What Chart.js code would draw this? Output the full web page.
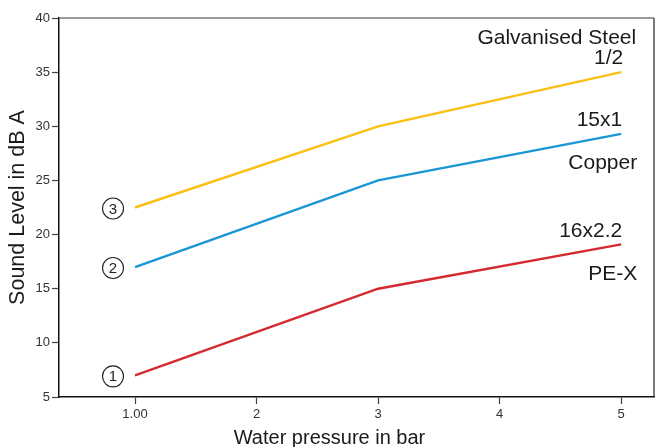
<!DOCTYPE html>
<html>
<head>
<meta charset="utf-8">
<script src="https://cdn.jsdelivr.net/npm/chart.js@4.4.1/dist/chart.umd.min.js"></script>
<style>
  html, body { margin: 0; padding: 0; background: #ffffff; }
  #wrap { width: 665px; height: 447px; position: relative; }
</style>
</head>
<body>
<div id="wrap"><canvas id="chart"></canvas></div>
<script>
// Water pressure (bar) at which sound level was measured
const pressures = [1, 3, 5];
const xTicks = [1, 2, 3, 4, 5];
const yTicks = [5, 10, 15, 20, 25, 30, 35, 40];

// Sound level in dB(A) per pipe type
const galvanisedSteel = [22.5, 30, 35];
const copper = [17, 25, 29.3];
const pex = [7, 15, 19.1];

const seriesNames = ['PE-X 16x2.2', 'Copper 15x1', 'Galvanised Steel 1/2'];
const seriesMarkers = ['1', '2', '3'];
const seriesColors = ['#d42a2f', '#1a96d6', '#fbbf14'];

// Right-hand captions: [upper line, lower line]
const captionsUpper = ['16x2.2', '15x1', 'Galvanised Steel'];
const captionsLower = ['PE-X', 'Copper', '1/2'];

const xTitle = 'Water pressure in bar';
const yTitle = 'Sound Level in dB A';

const FONT = '"Liberation Sans", Arial, Helvetica, sans-serif';

const toPoints = vals => vals.map((v, i) => ({ x: pressures[i], y: v }));

// Frame (top + right), x-axis title and the text annotations around the lines
const annotations = {
  id: 'annotations',
  afterDatasetsDraw(chart) {
    const { ctx, chartArea: a, scales: { x, y } } = chart;
    ctx.save();
    // top edge (grey) and right edge (dark)
    ctx.lineWidth = 1.5;
    ctx.strokeStyle = '#7a7a7a';
    ctx.beginPath(); ctx.moveTo(a.left, a.top); ctx.lineTo(a.right, a.top); ctx.stroke();
    ctx.lineWidth = 1.2;
    ctx.strokeStyle = '#222';
    ctx.beginPath(); ctx.moveTo(a.right, a.top); ctx.lineTo(a.right, a.bottom); ctx.stroke();

    // x-axis title, centred a little left of the plot centre
    ctx.fillStyle = '#1a1a1a';
    ctx.font = '20px ' + FONT;
    ctx.textAlign = 'center';
    ctx.textBaseline = 'alphabetic';
    ctx.fillText(xTitle, x.getPixelForValue(2.6), a.bottom + 47);

    const data = [pex, copper, galvanisedSteel];
    // circled series numbers left of the first point
    data.forEach((vals, i) => {
      const cx = x.getPixelForValue(pressures[0]) - 22;
      const cy = y.getPixelForValue(vals[0]) + 1;
      ctx.beginPath();
      ctx.arc(cx, cy, 10.5, 0, Math.PI * 2);
      ctx.lineWidth = 1.1;
      ctx.strokeStyle = '#222';
      ctx.stroke();
      ctx.fillStyle = '#222';
      ctx.font = '15px ' + FONT;
      ctx.textAlign = 'center';
      ctx.textBaseline = 'middle';
      ctx.fillText(seriesMarkers[i], cx, cy + 1);
    });

    // captions near the last point
    ctx.fillStyle = '#1a1a1a';
    ctx.font = '21px ' + FONT;
    ctx.textBaseline = 'alphabetic';
    ctx.textAlign = 'right';
    const xEnd = x.getPixelForValue(pressures[pressures.length - 1]);
    // PE-X
    let yEnd = y.getPixelForValue(pex[2]);
    ctx.fillText(captionsUpper[0], xEnd + 1, yEnd - 7);
    ctx.fillText(captionsLower[0], xEnd + 16, yEnd + 36);
    // Copper
    yEnd = y.getPixelForValue(copper[2]);
    ctx.fillText(captionsUpper[1], xEnd + 1, yEnd - 8);
    ctx.fillText(captionsLower[1], xEnd + 16, yEnd + 35);
    // Galvanised Steel
    yEnd = y.getPixelForValue(galvanisedSteel[2]);
    ctx.fillText(captionsUpper[2], xEnd + 15, yEnd - 28);
    ctx.fillText(captionsLower[2], xEnd + 2, yEnd - 8);
    ctx.restore();
  }
};

new Chart(document.getElementById('chart'), {
  type: 'line',
  data: {
    datasets: [pex, copper, galvanisedSteel].map((vals, i) => ({
      label: seriesNames[i],
      data: toPoints(vals),
      borderColor: seriesColors[i],
      borderWidth: 2.4,
      pointRadius: 0,
      tension: 0,
      fill: false
    }))
  },
  options: {
    responsive: true,
    maintainAspectRatio: false,
    animation: false,
    layout: { padding: { top: 18, right: 11, left: 0, bottom: 0 } },
    plugins: { legend: { display: false }, tooltip: { enabled: false } },
    scales: {
      x: {
        type: 'linear',
        min: 0.3745,
        max: 5.27,
        afterBuildTicks: s => { s.ticks = xTicks.map(v => ({ value: v })); },
        afterFit: s => { s.height = 50; },
        ticks: {
          color: '#333',
          font: { family: FONT, size: 13 },
          padding: 3,
          maxRotation: 0,
          callback: v => (v === 1 ? '1.00' : String(v))
        },
        grid: { drawOnChartArea: false, drawTicks: true, tickLength: 7, color: '#444', tickWidth: 1.2 },
        border: { display: true, color: '#111', width: 1.5 },
        title: { display: false }
      },
      y: {
        min: 5,
        max: 40,
        afterBuildTicks: s => { s.ticks = yTicks.map(v => ({ value: v })); },
        afterFit: s => { s.width = 59; },
        ticks: {
          color: '#333',
          font: { family: FONT, size: 13 },
          padding: 2
        },
        grid: { drawOnChartArea: false, drawTicks: true, tickLength: 7, color: '#444', tickWidth: 1.2 },
        border: { display: true, color: '#111', width: 1.5 },
        title: {
          display: true,
          text: yTitle,
          color: '#1a1a1a',
          font: { family: FONT, size: 21.5 },
          padding: { top: 5, bottom: 0 }
        }
      }
    }
  },
  plugins: [annotations]
});
</script>
</body>
</html>
